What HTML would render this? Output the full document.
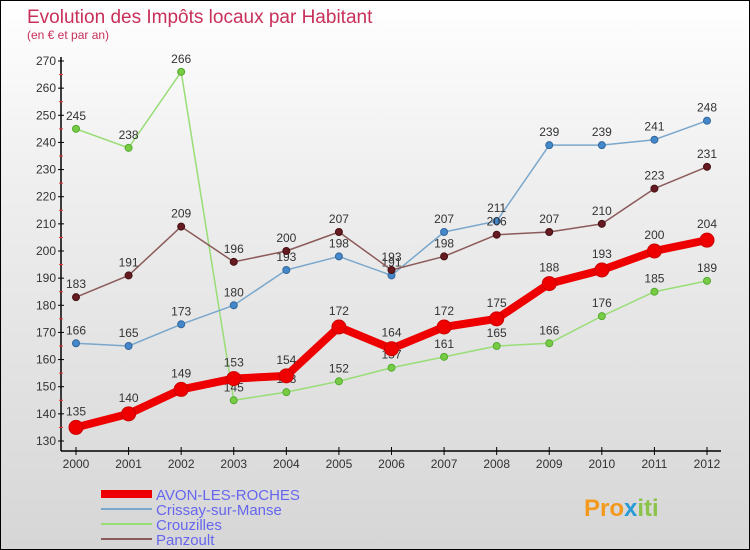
<!DOCTYPE html>
<html><head><meta charset="utf-8"><style>
body{margin:0}
#c{width:748px;height:548px;border:1px solid #000;background:linear-gradient(#ffffff 0%,#f0f0f0 30%,#d6d6d6 100%);position:relative;overflow:hidden;font-family:"Liberation Sans",sans-serif}
</style></head><body>
<div id="c">
<svg id="s" width="748" height="548" xmlns="http://www.w3.org/2000/svg">
<text x="26" y="22" font-size="19" fill="#c8305a">Evolution des Impôts locaux par Habitant</text>
<text x="26" y="38" font-size="12" fill="#c8305a">(en € et par an)</text>
<g id="axes"></g><g id="series"></g>
<g>
<rect x="100" y="489" width="51" height="8" fill="#e00"/>
<text x="155" y="499" font-size="15" fill="#6666ee">AVON-LES-ROCHES</text>
<line x1="100" y1="508" x2="151" y2="508" stroke="#7aa7cc" stroke-width="2"/>
<text x="155" y="514" font-size="15" fill="#6666ee">Crissay-sur-Manse</text>
<line x1="100" y1="523" x2="151" y2="523" stroke="#99dd77" stroke-width="2"/>
<text x="155" y="529" font-size="15" fill="#6666ee">Crouzilles</text>
<line x1="100" y1="538" x2="151" y2="538" stroke="#8b5a5a" stroke-width="2"/>
<text x="155" y="544" font-size="15" fill="#6666ee">Panzoult</text>
</g>
<text x="583" y="515" font-size="24" font-weight="bold" fill="#f39a1e">Pro<tspan fill="#2a9ad6">x</tspan><tspan fill="#8bc34a">iti</tspan></text>
</svg></div>
<script>
const years=[2000,2001,2002,2003,2004,2005,2006,2007,2008,2009,2010,2011,2012];
const yTicks=[130,140,150,160,170,180,190,200,210,220,230,240,250,260,270];
const avon=[135,140,149,153,154,172,164,172,175,188,193,200,204];
const crissay=[166,165,173,180,193,198,191,207,211,239,239,241,248];
const crouzilles=[245,238,266,145,148,152,157,161,165,166,176,185,189];
const panzoult=[183,191,209,196,200,207,193,198,206,207,210,223,231];
const NS="http://www.w3.org/2000/svg";
const X=i=>75+i*(706-75)/12;
const Y=v=>440-(v-130)*(380/140);
function mk(tag,a,p){const e=document.createElementNS(NS,tag);for(const k in a)e.setAttribute(k,a[k]);p.appendChild(e);return e;}
const ax=document.getElementById('axes');
const yl=mk('line',{x1:60,y1:56,x2:60,y2:450,stroke:'#000','stroke-width':1.5},ax);


const xl=mk('line',{x1:60,y1:450,x2:720,y2:450,stroke:'#000','stroke-width':1.5},ax);


yTicks.forEach(v=>{
 mk('line',{x1:57,y1:Y(v),x2:63,y2:Y(v),stroke:'#000'},ax);
 if(v<270)mk('line',{x1:58,y1:Y(v+5),x2:62,y2:Y(v+5),stroke:'#e33'},ax);
 const t=mk('text',{x:55,y:Y(v)+4,'font-size':12,fill:'#333','text-anchor':'end'},ax);t.textContent=v;
 
 
});
years.forEach((yr,i)=>{
 mk('line',{x1:X(i),y1:446,x2:X(i),y2:454,stroke:'#000'},ax);
 const t=mk('text',{x:X(i),y:467,'font-size':12,fill:'#333','text-anchor':'middle'},ax);t.textContent=yr;
 
 
});
const sg=document.getElementById('series');
function draw(name,data,color,dot,w,r,fill){
 const g=mk('g',{},sg);
 
 
 const p=mk('polyline',{points:data.map((v,i)=>X(i)+','+Y(v)).join(' '),fill:'none',stroke:color,'stroke-width':w,'stroke-linejoin':'round'},g);
 
 
 data.forEach((v,i)=>{
  const c=mk('circle',{cx:X(i),cy:Y(v),r:r,fill:fill,stroke:dot,'stroke-width':1},g);
  
  
  const t=mk('text',{x:X(i),y:Y(v)-9-(r>4?3:0),'font-size':12,fill:'#333','text-anchor':'middle'},g);t.textContent=v;
  
  
 });
}
draw('crouzilles',crouzilles,'#99dd77','#55aa33',1.5,3.5,'#77cc44');
draw('crissay',crissay,'#7aa7cc','#336699',1.5,3.5,'#4488cc');
draw('panzoult',panzoult,'#8b5a5a','#441111',1.5,3.5,'#661a22');
draw('avon',avon,'#ee0000','#cc0000',8,7,'#ee0000');
</script>
</body></html>
